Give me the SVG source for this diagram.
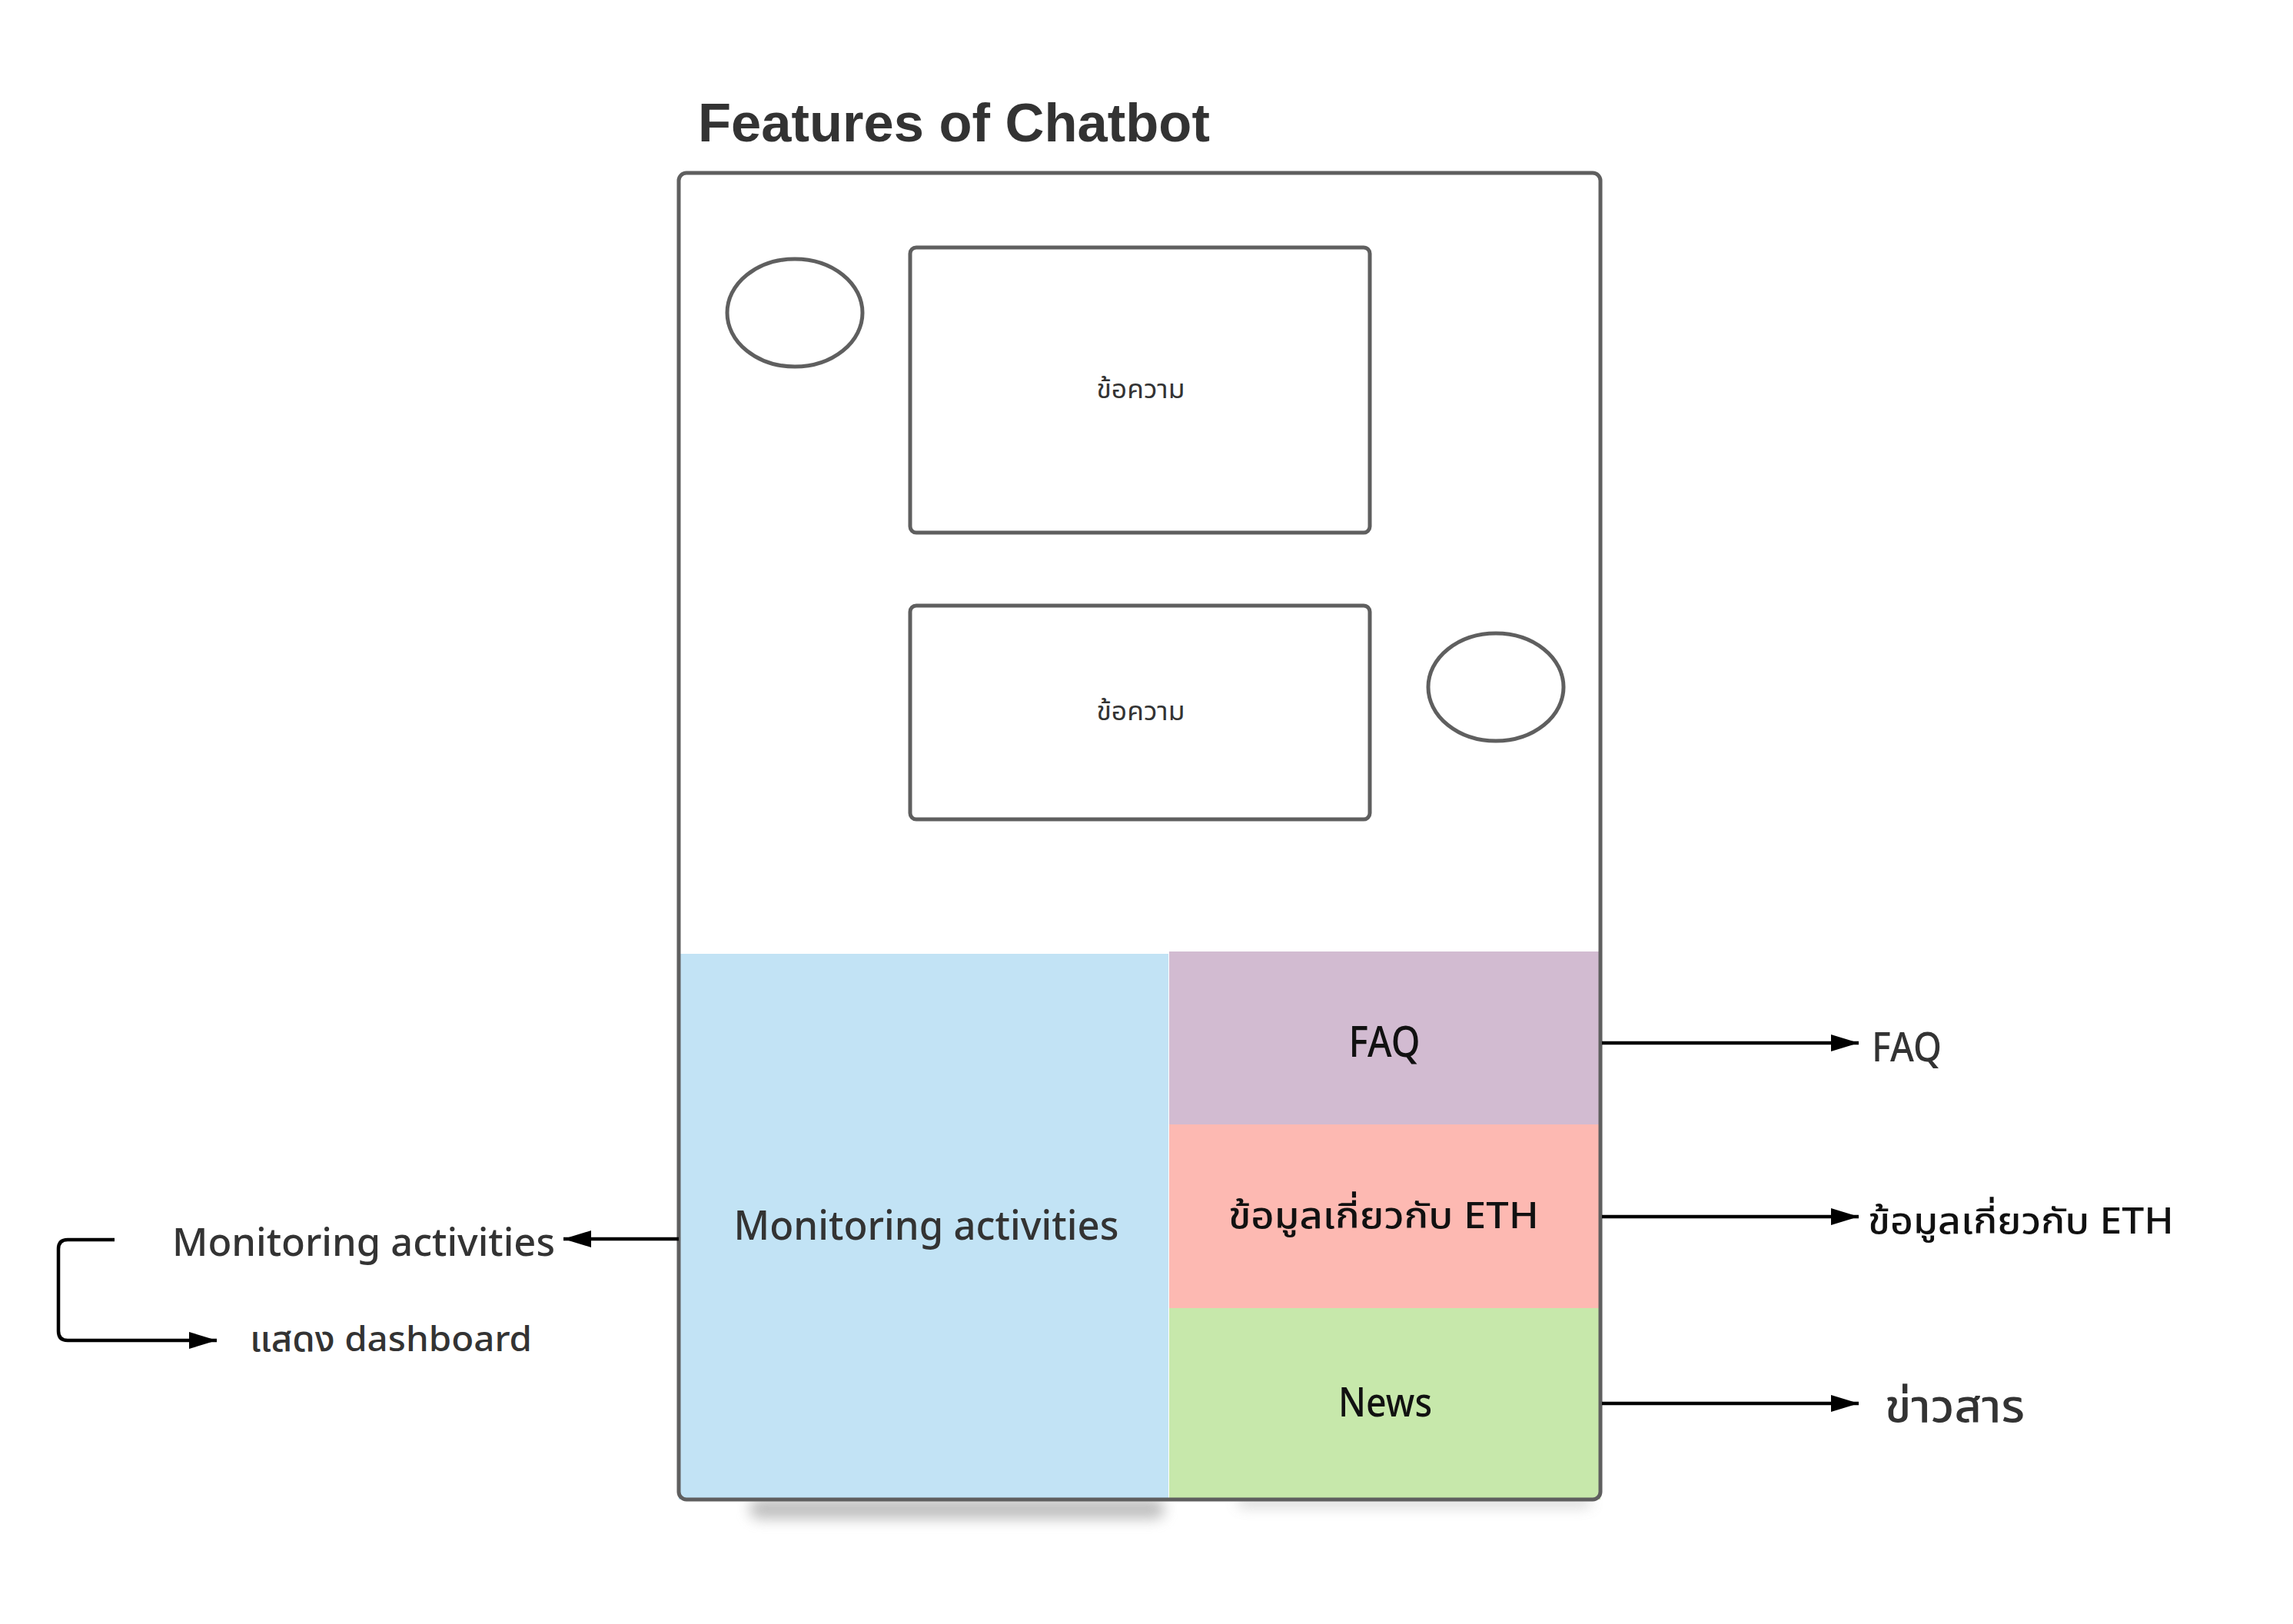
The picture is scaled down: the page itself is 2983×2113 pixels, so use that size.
<svg xmlns="http://www.w3.org/2000/svg" width="2983" height="2113" viewBox="0 0 2983 2113">
<style>
.frame{fill:none;stroke:#5f5f5f;stroke-width:5}
.box{fill:#fff;stroke:#5f5f5f;stroke-width:5}
.lbl{font-family:"Noto Sans","Noto Sans Thai","Noto Sans Thai UI",sans-serif;font-weight:500;fill:#333}
.thin{font-weight:400}
.dark{fill:#111}
.conn{fill:none;stroke:#000;stroke-width:4.5}
</style>
<defs>
<marker id="arr" markerUnits="userSpaceOnUse" markerWidth="36" markerHeight="22" refX="36" refY="11" orient="auto">
<path d="M0,0 L36,11 L0,22 z" fill="#000"/>
</marker>
<filter id="blur" x="-20%" y="-200%" width="140%" height="500%"><feGaussianBlur stdDeviation="9"/></filter>
</defs>
<rect width="2983" height="2113" fill="#fff"/>
<text x="908" y="184" font-family="'Liberation Sans',Arial,sans-serif" font-weight="bold" font-size="70.5" fill="#333">Features of Chatbot</text>
<g id="shadow">
<rect x="975" y="1950" width="540" height="26" rx="13" fill="#888" opacity="0.55" filter="url(#blur)"/>
<rect x="1610" y="1948" width="460" height="12" rx="6" fill="#888" opacity="0.4" filter="url(#blur)"/>
</g>
<g id="phone">
<rect x="883" y="225" width="1199" height="1726" rx="10" fill="#fff"/>
</g>
<g id="avatar1"><ellipse cx="1034" cy="407" rx="88" ry="70" class="box"/></g>
<g id="msg1"><rect x="1184" y="322" width="598" height="371" rx="8" class="box"/>
<text x="1484" y="518" text-anchor="middle" class="lbl thin" font-size="34" textLength="115" lengthAdjust="spacingAndGlyphs">ข้อความ</text></g>
<g id="msg2"><rect x="1184" y="788" width="598" height="278" rx="8" class="box"/>
<text x="1484" y="937" text-anchor="middle" class="lbl thin" font-size="34" textLength="115" lengthAdjust="spacingAndGlyphs">ข้อความ</text></g>
<g id="avatar2"><ellipse cx="1946" cy="894" rx="88" ry="70" class="box"/></g>
<g id="monitoring"><rect x="883" y="1241" width="637" height="710" fill="#C2E3F5"/>
<text x="1205" y="1613" text-anchor="middle" class="lbl" font-size="52" textLength="501" lengthAdjust="spacingAndGlyphs">Monitoring activities</text></g>
<g id="faq"><rect x="1521" y="1238" width="561" height="225" fill="#D2BBD1"/>
<text x="1801" y="1375" text-anchor="middle" class="lbl dark" font-size="56" textLength="93" lengthAdjust="spacingAndGlyphs">FAQ</text></g>
<g id="eth"><rect x="1521" y="1463" width="561" height="239" fill="#FDB9B2"/>
<text x="1800" y="1598" text-anchor="middle" class="lbl dark" font-size="47" textLength="404" lengthAdjust="spacingAndGlyphs">ข้อมูลเกี่ยวกับ ETH</text></g>
<g id="news"><rect x="1521" y="1702" width="561" height="249" fill="#C7E8AB"/>
<text x="1802" y="1843" text-anchor="middle" class="lbl dark" font-size="52" textLength="122" lengthAdjust="spacingAndGlyphs">News</text></g>
<g id="phoneborder"><rect x="883" y="225" width="1199" height="1726" rx="10" class="frame"/></g>
<g id="out-monitoring"><text x="224" y="1634" class="lbl" font-size="50" textLength="498" lengthAdjust="spacingAndGlyphs">Monitoring activities</text></g>
<g id="out-dashboard"><text x="325" y="1758" class="lbl" font-size="46" textLength="367" lengthAdjust="spacingAndGlyphs">แสดง dashboard</text></g>
<g id="out-faq"><text x="2435" y="1381" class="lbl" font-size="53" textLength="91" lengthAdjust="spacingAndGlyphs">FAQ</text></g>
<g id="out-eth"><text x="2430" y="1605" class="lbl dark" font-size="47" textLength="398" lengthAdjust="spacingAndGlyphs">ข้อมูลเกี่ยวกับ ETH</text></g>
<g id="out-news"><text x="2452" y="1850" class="lbl" font-size="58" textLength="182" lengthAdjust="spacingAndGlyphs">ข่าวสาร</text></g>
<g id="connectors">
<path class="conn" d="M883,1612 H733" marker-end="url(#arr)"/>
<path class="conn" d="M149,1613 H88 Q76,1613 76,1625 V1732 Q76,1744 88,1744 H282" marker-end="url(#arr)"/>
<path class="conn" d="M2084,1357 H2418" marker-end="url(#arr)"/>
<path class="conn" d="M2084,1583 H2418" marker-end="url(#arr)"/>
<path class="conn" d="M2084,1826 H2418" marker-end="url(#arr)"/>
</g>
</svg>
